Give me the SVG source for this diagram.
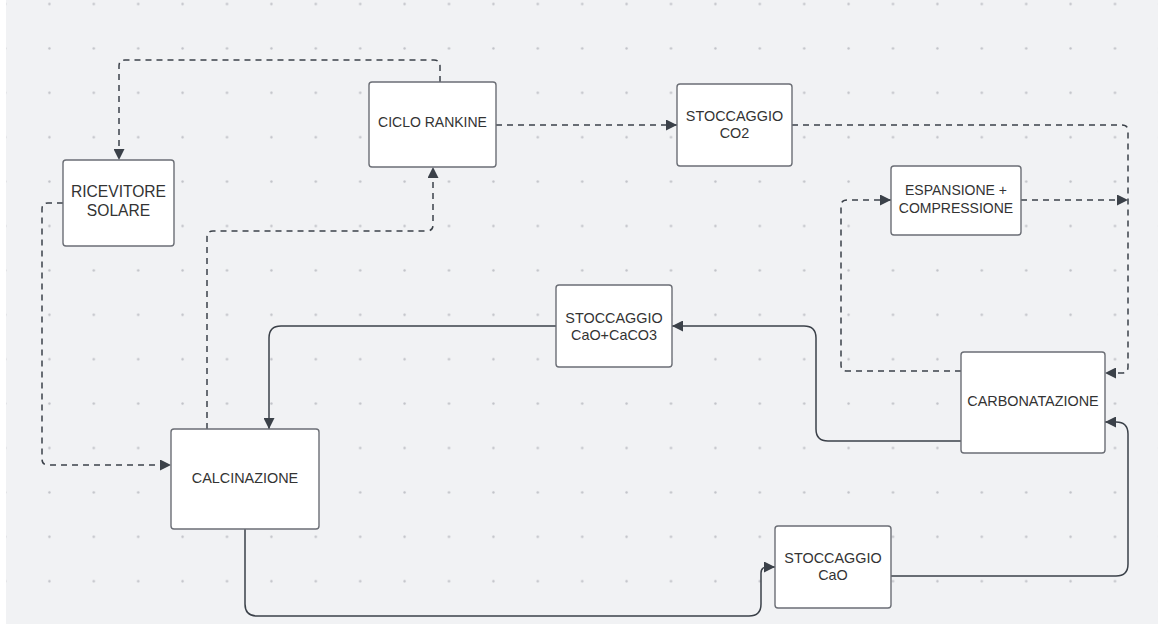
<svg xmlns="http://www.w3.org/2000/svg" width="1158" height="624" viewBox="0 0 1158 624">
<style>
.node rect{fill:#ffffff;stroke:#6b6e75;stroke-width:1.4}
.node text{font-family:"Liberation Sans",Arial,sans-serif;font-size:14.4px;fill:#333333;text-anchor:middle}
.c{fill:none;stroke:#3b4149;stroke-width:1.5}
.d{stroke-dasharray:6 5}
</style>
<defs>
<pattern id="grid" x="-17.2" y="-18.2" width="44.4" height="44.4" patternUnits="userSpaceOnUse">
<circle cx="22.2" cy="22.2" r="1.2" fill="#bfc1c6"/>
</pattern>
<marker id="ah" markerUnits="userSpaceOnUse" markerWidth="11" markerHeight="11" refX="10" refY="5" orient="auto" viewBox="0 0 10 10">
<path d="M0,0 L10,5 L0,10 z" fill="#3b4149"/>
</marker>
</defs>
<rect x="0" y="0" width="1158" height="624" fill="#ffffff"/>
<rect x="6" y="0" width="1152" height="624" fill="#f1f2f4"/>
<rect x="6" y="0" width="1152" height="624" fill="url(#grid)"/>

<g id="connectors">
<path class="c d" d="M440,82 L440,66 Q440,60 434,60 L125,60 Q119,60 119,66 L119,160" marker-end="url(#ah)"/>
<path class="c d" d="M63,203 L48,203 Q42,203 42,209 L42,459 Q42,465 48,465 L171,465" marker-end="url(#ah)"/>
<path class="c d" d="M207,429 L207,237 Q207,231 213,231 L427,231 Q433,231 433,225 L433,167" marker-end="url(#ah)"/>
<path class="c d" d="M496,125 L677,125" marker-end="url(#ah)"/>
<path class="c d" d="M792,125 L1122,125 Q1128,125 1128,131 L1128,367 Q1128,373 1122,373 L1105,373" marker-end="url(#ah)"/>
<path class="c d" d="M961,371 L847,371 Q841,371 841,365 L841,206 Q841,200 847,200 L891,200" marker-end="url(#ah)"/>
<path class="c d" d="M1021,200 L1128,200" marker-end="url(#ah)"/>
<path class="c" d="M961,441 L828,441 Q816,441 816,429 L816,338 Q816,326 804,326 L672,326" marker-end="url(#ah)"/>
<path class="c" d="M556,326 L281,326 Q269,326 269,338 L269,429" marker-end="url(#ah)"/>
<path class="c" d="M245,529 L245,604 Q245,616 257,616 L749,616 Q761,616 761,604 L761,573 Q761,567 767,567 L775,567" marker-end="url(#ah)"/>
<path class="c" d="M891,576 L1116,576 Q1128,576 1128,564 L1128,434 Q1128,422 1116,422 L1105,422" marker-end="url(#ah)"/>
</g>

<g id="ricevitore-solare" class="node">
<rect x="63" y="160" width="111" height="86" rx="3"/>
<text x="118.5" y="197" style="font-size:15.6px">RICEVITORE</text>
<text x="118.5" y="216" style="font-size:15.6px">SOLARE</text>
</g>
<g id="ciclo-rankine" class="node">
<rect x="369" y="82" width="127" height="85" rx="3"/>
<text x="432.5" y="127" style="font-size:14px">CICLO RANKINE</text>
</g>
<g id="stoccaggio-co2" class="node">
<rect x="677" y="84" width="115" height="82" rx="3"/>
<text x="734.5" y="121">STOCCAGGIO</text>
<text x="734.5" y="138">CO2</text>
</g>
<g id="espansione-compressione" class="node">
<rect x="891" y="166" width="130" height="69" rx="3"/>
<text x="956" y="195" style="font-size:14px">ESPANSIONE +</text>
<text x="956" y="212.5" style="font-size:14px">COMPRESSIONE</text>
</g>
<g id="stoccaggio-cao-caco3" class="node">
<rect x="556" y="285" width="116" height="82" rx="3"/>
<text x="614" y="322.5">STOCCAGGIO</text>
<text x="614" y="339.5">CaO+CaCO3</text>
</g>
<g id="carbonatazione" class="node">
<rect x="961" y="352" width="144" height="101" rx="3"/>
<text x="1033" y="406">CARBONATAZIONE</text>
</g>
<g id="calcinazione" class="node">
<rect x="171" y="429" width="148" height="100" rx="3"/>
<text x="245" y="483">CALCINAZIONE</text>
</g>
<g id="stoccaggio-cao" class="node">
<rect x="775" y="526" width="116" height="82" rx="3"/>
<text x="833" y="563">STOCCAGGIO</text>
<text x="833" y="580">CaO</text>
</g>
</svg>
